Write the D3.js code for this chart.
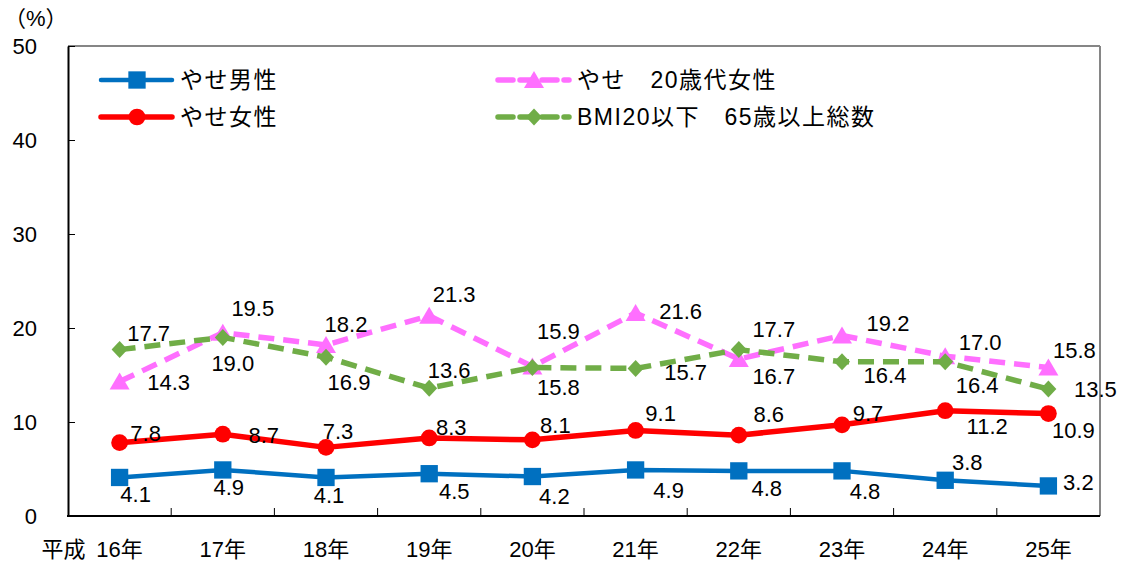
<!DOCTYPE html>
<html>
<head>
<meta charset="utf-8">
<script src="https://cdn.jsdelivr.net/npm/d3@7"></script>
<style>
body { margin: 0; background: #fff; }
text { font-family: "Liberation Sans", Arial, "Noto Sans CJK JP", sans-serif; fill: #000; }
</style>
</head>
<body>
<div id="chart"></div>
<script>
var years = ["16年", "17年", "18年", "19年", "20年", "21年", "22年", "23年", "24年", "25年"];
var yTicks = [0, 10, 20, 30, 40, 50];

var thinMen = [4.1, 4.9, 4.1, 4.5, 4.2, 4.9, 4.8, 4.8, 3.8, 3.2];
var thinWomen = [7.8, 8.7, 7.3, 8.3, 8.1, 9.1, 8.6, 9.7, 11.2, 10.9];
var thinWomen20s = [14.3, 19.5, 18.2, 21.3, 15.9, 21.6, 16.7, 19.2, 17.0, 15.8];
var bmiElderly = [17.7, 19.0, 16.9, 13.6, 15.8, 15.7, 17.7, 16.4, 16.4, 13.5];

// where each data label sits relative to its point
var offMen = [[16,17],[6,17],[3,18],[25,17],[22,20],[33,20],[28,17],[23,20],[22,-18],[30,-4]];
var offWomen = [[26,-10],[41,1],[12,-16],[22,-11],[23,-15],[25,-17],[30,-21],[26,-12],[42,15],[25,17]];
var off20s = [[49,0],[30,-25],[20,-21],[25,-22],[26,-35],[45,-2],[35,17],[46,-12],[35,-14],[26,-17]];
var offBmi = [[29,-17],[10,26],[23,25],[20,-18],[26,20],[50,4],[35,-21],[43,13],[32,23],[47,0]];

var width = 1126, height = 566;
var plotLeft = 68, plotRight = 1100, plotTop = 46, plotBottom = 516;

var svg = d3.select("#chart").append("svg")
	.attr("width", width)
	.attr("height", height);

var x = d3.scaleBand().domain(years).range([plotLeft, plotRight]);
var y = d3.scaleLinear().domain([0, 50]).range([plotBottom, plotTop]);

// frame
svg.append("line").attr("x1", plotLeft).attr("x2", plotRight).attr("y1", plotTop).attr("y2", plotTop)
	.attr("stroke", "#868686").attr("stroke-width", 2);
svg.append("line").attr("x1", plotRight).attr("x2", plotRight).attr("y1", plotTop).attr("y2", plotBottom)
	.attr("stroke", "#868686").attr("stroke-width", 2);

// y axis, ticks inward
var yAxis = svg.append("g")
	.attr("transform", "translate(" + plotLeft + ",0)")
	.call(d3.axisRight(y).tickValues(yTicks).tickSize(7).tickSizeOuter(0).tickFormat(""));
yAxis.select(".domain").attr("stroke", "#000").attr("stroke-width", 2);
yAxis.selectAll(".tick line").attr("stroke", "#000");

svg.selectAll(".ylab")
	.data(yTicks)
	.enter().append("text")
	.attr("class", "ylab")
	.attr("x", 37)
	.attr("y", function(d) { return y(d); })
	.attr("dy", "0.36em")
	.attr("text-anchor", "end")
	.style("font-size", "22px")
	.text(function(d) { return d; });

svg.append("text")
	.attr("x", 4).attr("y", 26)
	.style("font-size", "22px")
	.text("（%）");

// x axis, ticks between categories pointing up
var xAxis = svg.append("g")
	.attr("transform", "translate(0," + plotBottom + ")");
xAxis.append("line").attr("x1", plotLeft - 1).attr("x2", plotRight).attr("y1", 0).attr("y2", 0)
	.attr("stroke", "#000").attr("stroke-width", 2);
xAxis.selectAll(".xtick")
	.data(years.slice(1))
	.enter().append("line")
	.attr("x1", function(d) { return x(d); })
	.attr("x2", function(d) { return x(d); })
	.attr("y1", 0).attr("y2", -8)
	.attr("stroke", "#000");

svg.selectAll(".xlab")
	.data(years)
	.enter().append("text")
	.attr("class", "xlab")
	.attr("x", function(d) { return x(d) + x.bandwidth() / 2; })
	.attr("y", 549)
	.attr("dy", "0.36em")
	.attr("text-anchor", "middle")
	.style("font-size", "22px")
	.text(function(d) { return d; });
svg.append("text")
	.attr("x", x(years[0]) + x.bandwidth() / 2 - 34)
	.attr("y", 549)
	.attr("dy", "0.36em")
	.attr("text-anchor", "end")
	.style("font-size", "22px")
	.text("平成");

var cx = function(d, i) { return x(years[i]) + x.bandwidth() / 2; };

var series = [
	{name: "やせ男性", values: thinMen, off: offMen, color: "#0070C0", width: 4.5, dash: null, marker: "square"},
	{name: "やせ女性", values: thinWomen, off: offWomen, color: "#FF0000", width: 5.5, dash: null, marker: "circle"},
	{name: "やせ　20歳代女性", values: thinWomen20s, off: off20s, color: "#FF6FFF", width: 5.5, dash: "16,9", marker: "triangle"},
	{name: "BMI20以下　65歳以上総数", values: bmiElderly, off: offBmi, color: "#70AD47", width: 5.5, dash: "16,9", marker: "diamond"}
];

function markerPath(type) {
	if (type === "square") return d3.symbol().type(d3.symbolSquare).size(300)();
	if (type === "circle") return d3.symbol().type(d3.symbolCircle).size(220)();
	if (type === "triangle") return "M0,-9L10,8L-10,8Z";
	return "M0,-8.5L8,0L0,8.5L-8,0Z";
}

var line = d3.line()
	.x(function(d, i) { return cx(d, i); })
	.y(function(d) { return y(d); });

series.forEach(function(s) {
	var g = svg.append("g");
	g.append("path")
		.attr("d", line(s.values))
		.attr("fill", "none")
		.attr("stroke", s.color)
		.attr("stroke-width", s.width)
		.attr("stroke-dasharray", s.dash)
		.attr("stroke-linejoin", "round");
	g.selectAll(".mk")
		.data(s.values)
		.enter().append("path")
		.attr("d", markerPath(s.marker))
		.attr("transform", function(d, i) { return "translate(" + cx(d, i) + "," + y(d) + ")"; })
		.attr("fill", s.color);
});

// data labels on top of everything
series.forEach(function(s) {
	svg.append("g").selectAll("text")
		.data(s.values)
		.enter().append("text")
		.attr("x", function(d, i) { return cx(d, i) + s.off[i][0]; })
		.attr("y", function(d, i) { return y(d) + s.off[i][1]; })
		.attr("dy", "0.36em")
		.attr("text-anchor", "middle")
		.style("font-size", "22px")
		.text(function(d) { return d.toFixed(1); });
});

// legend
var legendPos = [[101, 80], [101, 117], [498, 80], [498, 117]];
series.forEach(function(s, i) {
	var lx = legendPos[i][0], ly = legendPos[i][1];
	var lg = svg.append("g").attr("transform", "translate(" + lx + "," + ly + ")");
	lg.append("line")
		.attr("x1", 0).attr("x2", 71).attr("y1", 0).attr("y2", 0)
		.attr("stroke", s.color)
		.attr("stroke-width", s.width)
		.attr("stroke-dasharray", s.dash ? "15,7" : null)
		.attr("stroke-linecap", "round");
	lg.append("path")
		.attr("d", markerPath(s.marker))
		.attr("transform", "translate(36,0)")
		.attr("fill", s.color);
	lg.append("text")
		.attr("x", 79).attr("y", 0)
		.attr("dy", "0.36em")
		.style("font-size", "23px")
		.style("letter-spacing", "1.5px")
		.text(s.name);
});
</script>
</body>
</html>
